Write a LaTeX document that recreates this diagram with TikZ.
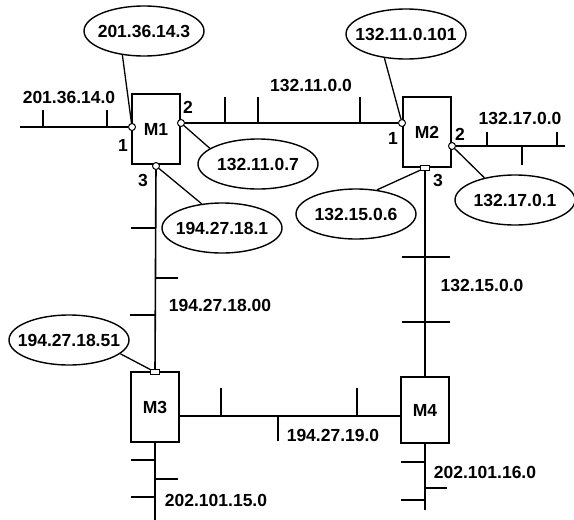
\documentclass[tikz,border=0pt]{standalone}
\usepackage{fontspec}
\setmainfont{Liberation Sans}
\usetikzlibrary{shapes.geometric}
\begin{document}
\begin{tikzpicture}[x=1pt, y=-1pt, font=\fontsize{17.5}{20}\selectfont\bfseries,
          router/.style={draw, line width=1.4pt, fill=white, minimum width=48pt, minimum height=70pt, inner sep=0pt},
          addr/.style={draw, ellipse, line width=1.4pt, minimum width=120pt, minimum height=50pt, inner xsep=-12pt, inner ysep=0pt},
          port/.style={draw, circle, fill=white, line width=1pt, inner sep=0pt, minimum size=7pt},
          portsq/.style={draw, rectangle, fill=white, line width=1pt, inner sep=0pt, minimum width=9pt, minimum height=5pt},
          bus/.style={line width=1.6pt},
          stub/.style={line width=1.3pt},
          link/.style={line width=1.3pt}]
        \useasboundingbox (0,0) rectangle (574,520);
        % routers
        \node[router] (M1) at (156,129) {M1};
        \node[router] (M2) at (427,132) {M2};
        \node[router] (M3) at (155,407) {M3};
        \node[router, minimum height=66pt] (M4) at (425,410) {M4};
        % interfaces
        \node[port] (p11) at (132,127) {};
        \node[port] (p12) at (181,123) {};
        \node[port] (p13) at (156,166) {};
        \node[port] (p21) at (402,123) {};
        \node[port] (p22) at (452,146) {};
        \node[portsq] (p23) at (425,168) {};
        \node[portsq] (p31) at (155,372) {};
        % free ends of the networks
        \coordinate (w1) at (20,127);
        \coordinate (e2) at (565,146);
        \coordinate (s3) at (155,520);
        \coordinate (s4) at (425,510);
        \coordinate (b19) at (0,416);
        \draw[bus] (w1) -- (p11);
        \draw[bus] (p12) -- (p21);
        \draw[bus] (p22) -- (e2);
        \draw[bus] (p13) -- (p31);
        \draw[bus] (p23) -- (M4);
        \draw[bus] (M3.east |- b19) -- (M4.west |- b19);
        \draw[bus] (M3.south) -- (s3);
        \draw[bus] (M4.south) -- (s4);
        % hosts on the networks
        \foreach \x/\ya/\yb in {43/110/127, 107/110/127, 225/97/123, 258/97/123, 360/97/123,
            487/132/146, 557/132/146, 522/146/165, 221/388/416, 278/416/441, 357/388/416}
          \draw[stub] (\x,\ya) -- (\x,\yb);
        \foreach \y/\xa/\xb in {228/131/155, 278/155/178, 315/130/155, 257/402/450, 322/402/450,
            460/131/155, 479/155/178, 497/131/155, 462/401/425, 488/425/447, 500/401/425}
          \draw[stub] (\xa,\y) -- (\xb,\y);
        % network numbers
        \node (n1) at (69,97) {201.36.14.0};
        \node (n2) at (311,85) {132.11.0.0};
        \node (n3) at (520,118) {132.17.0.0};
        \node (n4) at (220,305) {194.27.18.00};
        \node (n5) at (482,285) {132.15.0.0};
        \node (n6) at (333,435) {194.27.19.0};
        \node (n7) at (216,500) {202.101.15.0};
        \node (n8) at (485,472) {202.101.16.0};
        % interface numbers
        \node (l11) at (123,145) {1};
        \node (l12) at (188,107) {2};
        \node (l13) at (143,180) {3};
        \node (l21) at (393,138) {1};
        \node (l22) at (460,134) {2};
        \node (l23) at (438,180) {3};
        % interface addresses
        \node[addr] (a1) at (144,31) {201.36.14.3};
        \node[addr] (a2) at (258,164) {132.11.0.7};
        \node[addr] (a3) at (222,228) {194.27.18.1};
        \node[addr] (b1) at (406,34) {132.11.0.101};
        \node[addr] (b2) at (515,200) {132.17.0.1};
        \node[addr] (b3) at (356,214) {132.15.0.6};
        \node[addr] (c1) at (69,340) {194.27.18.51};
        \draw[link] (a1.228) -- (p11);
        \draw[link] (a2.162) -- (p12);
        \draw[link] (a3.130) -- (p13);
        \draw[link] (b1.228) -- (p21);
        \draw[link] (b2.144) -- (p22);
        \draw[link] (b3.49) -- (p23);
        \draw[link] (c1.345) -- (p31);
      \end{tikzpicture}
\end{document}
